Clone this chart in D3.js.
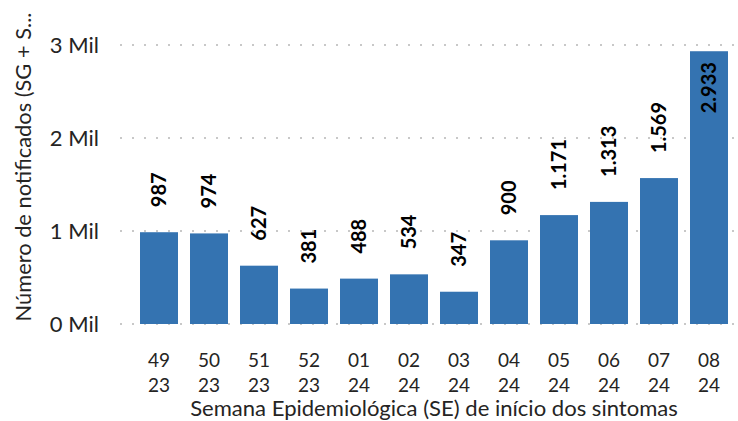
<!DOCTYPE html>
<meta charset="utf-8">
<head>
  <title>Notificados por SE</title>
  <style>
    body { margin: 0; background: #fff; }
    text { font-family: Lato, "Open Sans", sans-serif; }
  </style>
</head>
<body>
<div id="my_dataviz"></div>
<script src="https://d3js.org/d3.v7.min.js"></script>
<script>

// data
var weeks = ["49", "50", "51", "52", "01", "02", "03", "04", "05", "06", "07", "08"];
var years = ["23", "23", "23", "23", "24", "24", "24", "24", "24", "24", "24", "24"];
var notificados = [987, 974, 627, 381, 488, 534, 347, 900, 1171, 1313, 1569, 2933];
var yTicks = [0, 1000, 2000, 3000];

var width = 738, height = 421;
var margin = {top: 45, right: 4, bottom: 97, left: 134};

var svg = d3.select("#my_dataviz")
  .append("svg")
    .attr("width", width)
    .attr("height", height);

var x = d3.scaleBand()
    .domain(weeks.map(function(d, i) { return i; }))
    .range([margin.left, width - margin.right])
    .paddingInner(0.24)
    .paddingOuter(0.12);

var y = d3.scaleLinear()
    .domain([0, 3000])
    .range([324, 45]);

// shrink/grow a text so it spans about the width seen in the picture
function fitWidth(sel, target) {
  var fs = parseFloat(sel.style("font-size"));
  var w = sel.node().getComputedTextLength();
  sel.style("font-size", (fs * target / w).toFixed(2) + "px");
}

// dotted grid
svg.append("g")
  .selectAll("line")
  .data(yTicks)
  .enter().append("line")
    .attr("x1", 120)
    .attr("x2", width)
    .attr("y1", function(d) { return y(d); })
    .attr("y2", function(d) { return y(d); })
    .style("stroke", "#c8c8c8")
    .style("stroke-width", "2px")
    .style("stroke-dasharray", "2,10");

// y tick labels
svg.append("g")
  .selectAll("text")
  .data(yTicks)
  .enter().append("text")
    .attr("x", 99)
    .attr("y", function(d) { return y(d); })
    .attr("dy", "0.36em")
    .attr("text-anchor", "end")
    .style("font-size", "22px")
    .style("fill", "#252423")
    .text(function(d) { return (d / 1000) + " Mil"; });

// bars
svg.append("g")
  .selectAll("rect")
  .data(notificados)
  .enter().append("rect")
    .attr("x", function(d, i) { return x(i); })
    .attr("width", x.bandwidth())
    .attr("y", function(d) { return y(d); })
    .attr("height", function(d) { return y(0) - y(d); })
    .style("fill", "#3473b1");

// value labels, rotated; inside the bar when there's no room above
var fmt = function(d) { return d3.format(",")(d).replace(/,/g, "."); };
svg.append("g")
  .selectAll("text")
  .data(notificados)
  .enter().append("text")
    .attr("transform", function(d, i) {
      var cx = x(i) + x.bandwidth() / 2;
      var inside = y(d) < 110;
      var yy = inside ? y(d) + 62 : y(d) - 25;
      return "translate(" + cx + "," + yy + ") rotate(-90)";
    })
    .attr("dy", "0.36em")
    .attr("text-anchor", "start")
    .style("font-size", "20px")
    .style("font-weight", "bold")
    .style("fill", "#000")
    .text(fmt);

// x tick labels (two lines)
var xt = svg.append("g")
  .selectAll("text")
  .data(weeks)
  .enter().append("text")
    .attr("text-anchor", "middle")
    .style("font-size", "19px")
    .style("fill", "#252423");
xt.append("tspan")
    .attr("x", function(d, i) { return x(i) + x.bandwidth() / 2; })
    .attr("y", 367)
    .text(function(d) { return d; });
xt.append("tspan")
    .attr("x", function(d, i) { return x(i) + x.bandwidth() / 2; })
    .attr("y", 392)
    .text(function(d, i) { return years[i]; });

// axis titles
var xTitle = svg.append("text")
    .attr("x", (margin.left + width - margin.right) / 2)
    .attr("y", 416)
    .attr("text-anchor", "middle")
    .style("font-size", "20px")
    .style("fill", "#252423")
    .text("Semana Epidemiológica (SE) de início dos sintomas");
fitWidth(xTitle, 488);

var yTitle = svg.append("text")
    .attr("transform", "translate(31,167) rotate(-90)")
    .attr("text-anchor", "middle")
    .style("font-size", "19px")
    .style("fill", "#252423")
    .text("Número de notificados (SG + S...");
fitWidth(yTitle, 309);

</script>
</body>
</html>
